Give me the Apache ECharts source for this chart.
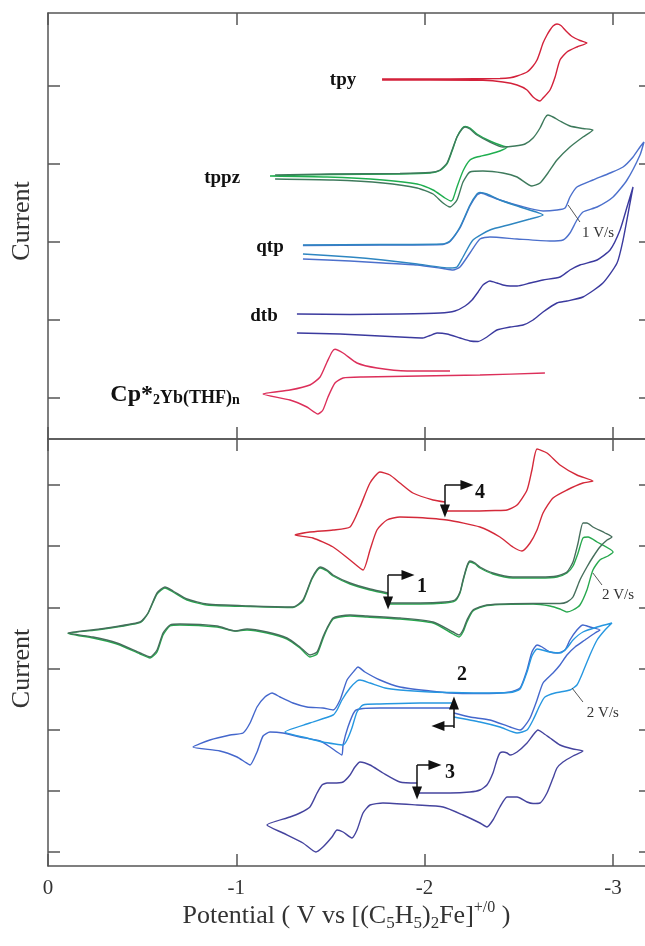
<!DOCTYPE html>
<html><head><meta charset="utf-8">
<script src="https://cdn.jsdelivr.net/npm/echarts@6/dist/echarts.min.js"></script>
<style>html,body{margin:0;padding:0;background:#fff}#c{width:645px;height:946px}</style>
</head><body><div id="c"></div>
<script>
// ---------- DATA : [potential (V vs Fc+/0), current (arb.)] ----------
// Top panel
const tpy = [[-1.774,36.0],[-2.135,36.0],[-2.400,36.05],[-2.454,36.12],[-2.491,36.3],[-2.544,36.7],[-2.576,37.3],[-2.597,37.9],[-2.613,38.7],[-2.629,39.6],[-2.650,40.4],[-2.666,40.9],[-2.682,41.3],[-2.703,41.5],[-2.724,41.35],[-2.751,40.8],[-2.783,40.25],[-2.825,39.85],[-2.862,39.6],[-2.809,39.2],[-2.756,38.7],[-2.719,37.9],[-2.693,36.2],[-2.666,34.9],[-2.629,34.1],[-2.613,33.8],[-2.576,34.2],[-2.544,34.9],[-2.491,35.4],[-2.416,35.7],[-2.310,35.87],[-2.029,35.9],[-1.774,35.9]];
const tppzDark = [[-1.206,26.4],[-1.498,26.5],[-1.869,26.55],[-2.029,26.65],[-2.082,26.9],[-2.119,27.6],[-2.146,28.9],[-2.172,30.2],[-2.199,31.0],[-2.215,31.2],[-2.241,31.0],[-2.278,30.4],[-2.347,29.7],[-2.416,29.2],[-2.480,29.3],[-2.533,29.5],[-2.576,30.1],[-2.613,31.1],[-2.639,32.1],[-2.655,32.4],[-2.682,32.2],[-2.719,31.8],[-2.772,31.3],[-2.841,31.05],[-2.894,30.9],[-2.841,30.2],[-2.772,29.2],[-2.703,27.9],[-2.655,26.6],[-2.613,25.6],[-2.570,25.3],[-2.491,26.2],[-2.416,26.6],[-2.310,26.8],[-2.241,26.7],[-2.204,25.7],[-2.172,23.9],[-2.135,23.2],[-2.098,23.6],[-2.045,24.5],[-1.960,25.1],[-1.779,25.6],[-1.514,25.9],[-1.206,26.0]];
const tppzGreen = [[-1.179,26.3],[-1.498,26.45],[-1.869,26.5],[-2.029,26.6],[-2.082,26.85],[-2.119,27.5],[-2.146,28.8],[-2.172,30.2],[-2.199,31.05],[-2.215,31.25],[-2.241,31.1],[-2.278,30.5],[-2.347,29.8],[-2.416,29.3],[-2.438,29.2],[-2.400,28.8],[-2.347,28.5],[-2.278,28.2],[-2.241,27.9],[-2.204,26.8],[-2.172,25.2],[-2.151,24.0],[-2.140,23.8],[-2.108,24.1],[-2.045,24.9],[-1.960,25.5],[-1.779,25.9],[-1.482,26.2],[-1.179,26.3]];
const qtpA = [[-1.354,19.4],[-1.763,19.45],[-2.098,19.5],[-2.135,19.8],[-2.188,21.2],[-2.241,23.4],[-2.278,24.5],[-2.294,24.65],[-2.331,24.5],[-2.400,23.9],[-2.507,23.2],[-2.629,22.4],[-2.560,22.0],[-2.454,21.45],[-2.347,20.9],[-2.257,19.9],[-2.204,18.2],[-2.172,17.2],[-2.135,17.1],[-1.960,17.5],[-1.779,17.9],[-1.604,18.2],[-1.354,18.5]];
const qtpB = [[-1.354,19.35],[-1.763,19.4],[-2.098,19.45],[-2.135,19.75],[-2.188,21.1],[-2.241,23.3],[-2.278,24.4],[-2.300,24.6],[-2.331,24.4],[-2.400,23.9],[-2.507,23.3],[-2.629,22.8],[-2.703,22.9],[-2.746,23.1],[-2.772,24.2],[-2.809,25.2],[-2.894,25.9],[-2.985,26.6],[-3.054,27.2],[-3.107,28.2],[-3.144,29.2],[-3.165,29.7],[-3.144,28.4],[-3.075,25.9],[-3.001,24.2],[-2.916,23.2],[-2.841,22.7],[-2.809,21.9],[-2.772,20.6],[-2.735,19.9],[-2.666,19.8],[-2.491,20.0],[-2.347,20.2],[-2.294,20.0],[-2.241,18.6],[-2.188,17.2],[-2.151,16.9],[-2.098,17.05],[-1.960,17.4],[-1.779,17.6],[-1.604,17.8],[-1.354,18.0]];
const dtb = [[-1.322,12.5],[-1.604,12.45],[-1.869,12.5],[-2.082,12.6],[-2.161,12.8],[-2.215,13.3],[-2.252,13.9],[-2.284,14.7],[-2.310,15.4],[-2.347,15.8],[-2.384,15.6],[-2.416,15.4],[-2.454,15.3],[-2.491,15.3],[-2.560,15.6],[-2.629,15.9],[-2.719,16.2],[-2.772,16.9],[-2.825,17.4],[-2.916,17.9],[-2.985,18.9],[-3.038,20.9],[-3.075,23.2],[-3.107,25.2],[-3.091,23.6],[-3.054,19.9],[-3.022,17.6],[-2.947,15.6],[-2.841,14.2],[-2.756,13.8],[-2.703,13.6],[-2.629,12.7],[-2.576,11.9],[-2.523,11.4],[-2.454,11.2],[-2.384,10.9],[-2.331,10.2],[-2.284,9.75],[-2.241,9.8],[-2.188,10.1],[-2.119,10.5],[-2.066,10.6],[-2.029,10.35],[-1.991,10.1],[-1.922,10.15],[-1.763,10.3],[-1.551,10.5],[-1.322,10.6]];
const cpYb = [[-2.135,6.8],[-1.907,6.8],[-1.747,7.1],[-1.641,7.6],[-1.567,8.6],[-1.524,8.97],[-1.508,8.7],[-1.482,7.7],[-1.445,6.2],[-1.391,5.4],[-1.285,4.9],[-1.142,4.5],[-1.285,3.9],[-1.375,3.2],[-1.434,2.5],[-1.460,2.9],[-1.487,4.2],[-1.524,5.6],[-1.567,6.1],[-1.673,6.2],[-1.976,6.3],[-2.294,6.4],[-2.639,6.6]];
// Bottom panel
const cv4 = [[-2.108,35.5],[-2.241,35.5],[-2.374,35.55],[-2.438,35.6],[-2.491,36.1],[-2.544,37.6],[-2.570,39.6],[-2.597,41.7],[-2.650,41.3],[-2.719,40.1],[-2.809,39.1],[-2.894,38.5],[-2.841,38.3],[-2.756,37.6],[-2.682,36.8],[-2.629,35.3],[-2.597,33.6],[-2.560,32.3],[-2.517,31.5],[-2.469,31.9],[-2.400,32.9],[-2.294,33.9],[-2.119,34.6],[-1.960,34.85],[-1.869,34.9],[-1.800,34.6],[-1.747,33.6],[-1.710,31.6],[-1.673,29.6],[-1.604,30.6],[-1.514,31.9],[-1.407,32.8],[-1.312,33.1],[-1.391,33.4],[-1.514,33.6],[-1.604,33.9],[-1.657,35.9],[-1.710,38.3],[-1.763,39.4],[-1.816,39.1],[-1.869,38.3],[-1.938,37.3],[-2.045,36.6],[-2.108,36.4]];
const cv1Dark = [[-1.806,26.3],[-1.976,26.3],[-2.108,26.4],[-2.161,26.6],[-2.188,27.4],[-2.204,28.6],[-2.225,30.0],[-2.241,30.5],[-2.268,30.3],[-2.294,29.9],[-2.363,29.3],[-2.469,28.9],[-2.613,28.9],[-2.703,29.0],[-2.756,29.4],[-2.788,30.4],[-2.815,32.3],[-2.841,34.3],[-2.862,34.3],[-2.894,33.9],[-2.958,33.3],[-2.995,32.9],[-2.969,32.6],[-2.931,31.9],[-2.894,30.9],[-2.862,29.9],[-2.825,28.6],[-2.788,26.9],[-2.756,26.4],[-2.719,26.25],[-2.576,26.25],[-2.331,26.1],[-2.257,25.6],[-2.225,24.6],[-2.204,23.6],[-2.183,23.1],[-2.151,23.4],[-2.045,24.4],[-1.869,24.8],[-1.694,25.0],[-1.604,25.1],[-1.551,25.0],[-1.514,24.8],[-1.482,23.8],[-1.460,22.9],[-1.429,21.4],[-1.391,21.1],[-1.338,21.9],[-1.269,22.8],[-1.163,23.4],[-1.057,23.7],[-0.993,23.5],[-0.898,24.0],[-0.701,24.2],[-0.648,24.1],[-0.611,23.3],[-0.579,21.6],[-0.542,20.9],[-0.489,21.3],[-0.366,22.3],[-0.239,22.9],[-0.106,23.3],[-0.276,23.7],[-0.489,24.4],[-0.531,25.3],[-0.579,27.3],[-0.621,27.9],[-0.664,27.5],[-0.738,26.7],[-0.844,26.2],[-1.073,26.0],[-1.301,25.9],[-1.354,26.6],[-1.402,28.8],[-1.445,29.9],[-1.482,29.6],[-1.514,29.1],[-1.604,28.3],[-1.710,27.7],[-1.806,27.3]];
const cv1Green = [[-1.806,26.2],[-1.976,26.2],[-2.108,26.3],[-2.161,26.5],[-2.188,27.3],[-2.204,28.5],[-2.225,29.9],[-2.241,30.4],[-2.268,30.2],[-2.294,29.8],[-2.363,29.2],[-2.469,28.8],[-2.613,28.8],[-2.703,28.9],[-2.756,29.3],[-2.788,30.0],[-2.815,31.3],[-2.841,32.8],[-2.868,32.9],[-2.916,32.4],[-3.001,31.4],[-2.974,31.0],[-2.931,30.6],[-2.894,29.6],[-2.862,27.6],[-2.825,26.1],[-2.788,25.6],[-2.756,25.4],[-2.719,25.7],[-2.666,26.0],[-2.576,26.2],[-2.331,26.05],[-2.257,25.5],[-2.225,24.4],[-2.204,23.4],[-2.183,22.9],[-2.151,23.2],[-2.045,24.3],[-1.869,24.7],[-1.694,24.9],[-1.604,25.0],[-1.551,24.9],[-1.514,24.7],[-1.482,23.7],[-1.460,22.7],[-1.429,21.2],[-1.391,20.9],[-1.338,21.8],[-1.269,22.7],[-1.163,23.3],[-1.057,23.6],[-0.993,23.5],[-0.898,23.9],[-0.701,24.1],[-0.648,24.0],[-0.611,23.1],[-0.579,21.4],[-0.542,20.8],[-0.489,21.2],[-0.366,22.2],[-0.239,22.8],[-0.106,23.25],[-0.276,23.65],[-0.489,24.35],[-0.531,25.25],[-0.579,27.2],[-0.621,27.8],[-0.664,27.4],[-0.738,26.6],[-0.844,26.1],[-1.073,25.95],[-1.301,25.85],[-1.354,26.5],[-1.402,28.7],[-1.445,29.8],[-1.482,29.5],[-1.514,29.0],[-1.604,28.2],[-1.710,27.6],[-1.806,27.2]];
const cv2Dark = [[-2.156,15.8],[-1.976,15.8],[-1.763,15.8],[-1.673,15.75],[-1.630,15.5],[-1.593,13.9],[-1.567,12.1],[-1.561,11.1],[-1.535,11.4],[-1.498,11.9],[-1.445,12.5],[-1.338,12.9],[-1.248,13.3],[-1.179,13.4],[-1.142,13.0],[-1.110,11.4],[-1.073,10.1],[-1.046,10.4],[-1.004,10.9],[-0.913,11.5],[-0.770,11.9],[-0.860,12.6],[-0.967,13.1],[-1.036,13.3],[-1.073,14.3],[-1.110,15.9],[-1.152,16.9],[-1.190,17.3],[-1.232,16.9],[-1.301,16.3],[-1.375,15.9],[-1.460,15.8],[-1.514,15.6],[-1.551,16.6],[-1.588,18.6],[-1.630,19.6],[-1.646,19.9],[-1.683,19.4],[-1.763,18.6],[-1.869,17.9],[-2.029,17.5],[-2.135,17.3],[-2.294,17.25],[-2.454,17.4],[-2.507,17.8],[-2.544,19.6],[-2.570,21.4],[-2.597,22.1],[-2.624,21.9],[-2.666,21.4],[-2.708,21.3],[-2.746,21.6],[-2.772,22.6],[-2.809,23.6],[-2.841,24.1],[-2.878,23.9],[-2.931,23.6],[-2.905,23.3],[-2.852,22.6],[-2.799,21.9],[-2.756,21.1],[-2.719,20.1],[-2.682,19.3],[-2.629,18.3],[-2.597,16.6],[-2.560,14.8],[-2.523,13.8],[-2.507,13.6],[-2.454,13.9],[-2.347,14.6],[-2.241,14.9],[-2.156,15.3]];
const cv2Light = [[-2.156,16.3],[-1.976,16.3],[-1.763,16.2],[-1.673,16.1],[-1.641,15.4],[-1.614,13.8],[-1.588,12.6],[-1.567,12.1],[-1.524,12.2],[-1.460,12.4],[-1.375,12.8],[-1.259,13.4],[-1.391,14.3],[-1.514,15.1],[-1.535,15.6],[-1.561,16.6],[-1.604,17.8],[-1.641,18.5],[-1.657,18.6],[-1.710,18.3],[-1.790,17.8],[-1.869,17.6],[-2.029,17.4],[-2.135,17.35],[-2.294,17.3],[-2.454,17.35],[-2.507,17.7],[-2.544,19.4],[-2.570,21.0],[-2.597,21.7],[-2.624,21.6],[-2.666,21.4],[-2.719,21.3],[-2.756,21.8],[-2.788,22.6],[-2.841,23.4],[-2.916,23.9],[-2.995,24.3],[-2.958,23.6],[-2.916,22.6],[-2.878,21.1],[-2.841,19.4],[-2.809,18.1],[-2.772,17.6],[-2.693,17.3],[-2.639,16.9],[-2.613,16.1],[-2.576,14.6],[-2.544,13.6],[-2.491,13.3],[-2.400,13.9],[-2.294,14.4],[-2.156,14.9]];
const cv3 = [[-1.960,7.3],[-2.135,7.3],[-2.241,7.4],[-2.294,7.6],[-2.331,8.1],[-2.363,9.3],[-2.384,10.6],[-2.400,11.3],[-2.416,11.4],[-2.438,11.3],[-2.454,11.1],[-2.491,11.4],[-2.544,12.3],[-2.576,13.1],[-2.602,13.6],[-2.629,13.3],[-2.666,12.8],[-2.719,12.1],[-2.788,11.7],[-2.841,11.5],[-2.788,11.0],[-2.735,10.4],[-2.703,9.8],[-2.682,8.8],[-2.650,7.3],[-2.613,6.3],[-2.576,6.25],[-2.544,6.4],[-2.491,6.9],[-2.438,6.9],[-2.400,5.9],[-2.363,4.6],[-2.331,3.9],[-2.294,4.3],[-2.204,5.1],[-2.098,5.9],[-1.960,6.1],[-1.779,6.3],[-1.710,6.1],[-1.673,5.3],[-1.641,3.6],[-1.614,2.8],[-1.567,3.4],[-1.535,3.6],[-1.508,2.9],[-1.460,1.9],[-1.423,1.4],[-1.354,2.3],[-1.248,3.3],[-1.163,4.1],[-1.285,4.9],[-1.338,5.3],[-1.391,5.9],[-1.429,7.3],[-1.455,8.1],[-1.482,8.3],[-1.514,8.3],[-1.567,8.4],[-1.604,9.1],[-1.630,9.9],[-1.657,10.4],[-1.710,10.1],[-1.779,9.3],[-1.869,8.4],[-1.960,8.3]];

// Axis ticks
const xTicks = [0, -1, -2, -3];
const yTicksTop = [4.1, 11.9, 19.7, 27.5, 35.3];
const yTicksBottom = [1.4, 7.52, 13.63, 19.75, 25.87, 31.98, 38.1];

// Annotations: [text, potential, current]
const topNames = [['tpy',-1.567,35.9],['tppz',-0.925,26.1],['qtp',-1.179,19.2],['dtb',-1.147,12.3],['{a|Cp*}{b|2}{c|Yb(THF)}{d|n}',-0.675,4.5]];
const topRates = [['1 V/s',-2.921,20.6]];
const topLeaders = [[-2.762,23.4,-2.825,21.7]];
const bottomNames = [['4',-2.294,37.3],['1',-1.986,27.9],['2',-2.199,19.1],['3',-2.135,9.3]];
const bottomRates = [['2 V/s',-3.027,27.1],['2 V/s',-2.947,15.3]];
const bottomLeaders = [[-2.894,29.3,-2.942,28.1],[-2.783,17.8,-2.841,16.4]];
// start-of-scan arrows [x1,y1,x2,y2] (arrowhead at x2,y2)
const startArrows = [[-2.108,38.1,-2.108,35.5],[-2.108,38.1,-2.225,38.1],[-1.806,29.1,-1.806,26.3],[-1.806,29.1,-1.912,29.1],[-2.156,13.8,-2.156,16.3],[-2.156,14.0,-2.071,14.0],[-1.960,10.1,-1.960,7.3],[-1.960,10.1,-2.055,10.1]];

// ---------- CHART ----------
const FONT = 'Liberation Serif';
const AX = '#555';
const TXT = '#111';
const chart = echarts.init(document.getElementById('c'), null, {renderer:'canvas'});

function curve(data, color, bottom, z) {
  return {type:'line', data, xAxisIndex: bottom?3:0, yAxisIndex: bottom?2:0,
    showSymbol:false, symbol:'none', smooth:0.2, silent:true, animation:false, z: z||2,
    lineStyle:{color, width:1.4}, itemStyle:{color}};
}
function texts(items, bottom, style) {
  return {type:'scatter', xAxisIndex: bottom?3:0, yAxisIndex: bottom?2:0, silent:true, animation:false, z:6,
    symbolSize:1, itemStyle:{color:'rgba(0,0,0,0)'},
    data: items.map(d=>({value:[d[1],d[2]], name:d[0]})),
    label: Object.assign({show:true, position:'inside', formatter: p=>p.name, fontFamily:FONT, color:TXT, opacity:1}, style)};
}
function lines(segs, bottom, arrow) {
  return {type:'line', data:[], xAxisIndex: bottom?3:0, yAxisIndex: bottom?2:0, silent:true, animation:false, z:7,
    markLine:{silent:true, animation:false, label:{show:false}, emphasis:{disabled:true},
      lineStyle: arrow ? {color:'#111', width:1.5, type:'solid'} : {color:'#444', width:0.9, type:'solid'},
      data: segs.map(s=>[{coord:[s[0],s[1]], symbol:'none'}, {coord:[s[2],s[3]], symbol: arrow?'triangle':'none', symbolSize:[10,13]}])}};
}
function xAx(grid, pos, labels) {
  return {type:'value', gridIndex:grid, position:pos, inverse:true, min:-3.1705, max:0,
    axisLine:{show:true, onZero:false, lineStyle:{color:AX, width:1.5}},
    axisTick:{show:true, inside:true, length:12, customValues:xTicks, lineStyle:{color:AX, width:1.5}},
    axisLabel:{show:labels, customValues:xTicks, margin:12, fontFamily:FONT, fontSize:21, color:'#333'},
    splitLine:{show:false}};
}
function yAx(grid, pos, max, ticks, len, name, pad) {
  return {type:'value', gridIndex:grid, position:pos, min:0, max,
    axisLine:{show: pos==='left', onZero:false, lineStyle:{color:AX, width:1.5}},
    axisTick:{show:true, inside:true, length:len, customValues:ticks, lineStyle:{color:AX, width:1.5}},
    axisLabel:{show:false}, splitLine:{show:false},
    name: name||'', nameLocation:'middle', nameGap:13, nameRotate:90,
    nameTextStyle:{fontFamily:FONT, fontSize:26, color:'#333', padding: pad||0}};
}

const option = {
  backgroundColor:'#fff',
  animation:false,
  grid:[{left:48, top:13, right:0, height:426},{left:48, top:439, right:0, height:427}],
  xAxis:[xAx(0,'bottom',false), xAx(0,'top',false), xAx(1,'top',false),
    Object.assign(xAx(1,'bottom',true), {name:'Potential ( V vs [(C{s|5}H{s|5}){s|2}Fe]{p|+/0} )', nameLocation:'middle', nameGap:44,
      nameTextStyle:{fontFamily:FONT, fontSize:26, color:'#333', lineHeight:32, verticalAlign:'bottom',
        rich:{s:{fontFamily:FONT, fontSize:17, color:'#333', lineHeight:16, verticalAlign:'bottom'},
              p:{fontFamily:FONT, fontSize:16, color:'#333', lineHeight:16, verticalAlign:'top'}}}})],
  yAxis:[yAx(0,'left',42.6,yTicksTop,12,'Current',[0,0,0,10]), yAx(0,'right',42.6,yTicksTop,6),
         yAx(1,'left',42.7,yTicksBottom,12,'Current',[0,32,0,0]), yAx(1,'right',42.7,yTicksBottom,6)],
  series:[
    curve(tpy,'#d3213a',false),
    curve(tppzGreen,'#1fae4f',false),
    curve(tppzDark,'#3e7a5c',false,3),
    curve(qtpB,'#4c70cc',false),
    curve(qtpA,'#2e86c1',false,3),
    curve(dtb,'#3b3a9e',false),
    curve(cpYb,'#dc2f5a',false),
    curve(cv4,'#d42a3a',true),
    curve(cv1Green,'#27a84e',true),
    curve(cv1Dark,'#466e5c',true,3),
    curve(cv2Dark,'#4467cc',true),
    curve(cv2Light,'#2697e0',true,3),
    curve(cv3,'#45449e',true),
    texts(topNames,false,{fontSize:19, fontWeight:'bold',
      rich:{a:{fontFamily:FONT,fontSize:24,fontWeight:'bold',color:TXT,lineHeight:26,verticalAlign:'bottom'},
            b:{fontFamily:FONT,fontSize:14,fontWeight:'bold',color:TXT,lineHeight:8,verticalAlign:'bottom'},
            c:{fontFamily:FONT,fontSize:18,fontWeight:'bold',color:TXT,lineHeight:22,verticalAlign:'bottom'},
            d:{fontFamily:FONT,fontSize:14,fontWeight:'bold',color:TXT,lineHeight:8,verticalAlign:'bottom'}}}),
    texts(topRates,false,{fontSize:15, color:'#333'}),
    texts(bottomNames,true,{fontSize:20, fontWeight:'bold'}),
    texts(bottomRates,true,{fontSize:15, color:'#333'}),
    lines(topLeaders,false,false),
    lines(bottomLeaders,true,false),
    lines(startArrows,true,true)
  ]
};
chart.setOption(option);
</script></body></html>
